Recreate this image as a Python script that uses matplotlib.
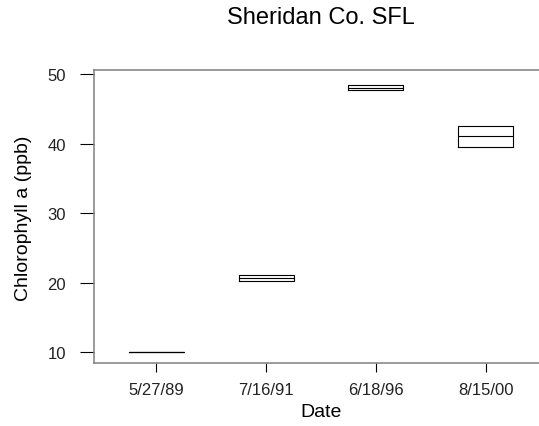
import matplotlib
matplotlib.use("Agg")
import matplotlib.pyplot as plt

plt.rcParams['font.family'] = ['Liberation Sans', 'DejaVu Sans']

dates = ['5/27/89', '7/16/91', '6/18/96', '8/15/00']
q1 = [10.1, 20.25, 47.7, 39.6]
med = [10.1, 20.7, 48.1, 41.1]
q3 = [10.1, 21.1, 48.4, 42.6]

stats = []
for d, lo, m, hi in zip(dates, q1, med, q3):
    stats.append({'label': d, 'q1': lo, 'med': m, 'q3': hi,
                  'whislo': lo, 'whishi': hi, 'fliers': []})

fig = plt.figure(figsize=(5.39, 4.27), dpi=100)
ax = fig.add_axes([94 / 539, 62.7 / 427, 454 / 539, 293.3 / 427])

line = {'color': 'black', 'linewidth': 0.8}
ax.bxp(stats, positions=range(1, len(dates) + 1), widths=0.5,
       showcaps=False, showfliers=False,
       boxprops=line, medianprops=line, whiskerprops=line)

ax.set_xlim(0.436, 4.564)
ax.set_ylim(8.42, 50.62)
ax.set_yticks([10, 20, 30, 40, 50])
ax.set_xticks(range(1, len(dates) + 1))
ax.set_xticklabels(dates)

for s in ['left', 'bottom', 'top', 'right']:
    ax.spines[s].set_color('#808080')
    ax.spines[s].set_linewidth(1.1)

ax.tick_params(axis='y', length=10, width=0.8, pad=10, labelsize=12, labelcolor='#222222')
ax.tick_params(axis='x', length=6.5, width=0.8, pad=7, labelsize=12, labelcolor='#222222')

ax.set_xlabel('Date', fontsize=14, labelpad=4)
fig.text(24 / 539, 1 - 218 / 427, 'Chlorophyll a (ppb)', fontsize=14,
         rotation=90, ha='center', va='center')
fig.text(321 / 539, 1 - 18 / 427, 'Sheridan Co. SFL', fontsize=17,
         ha='center', va='center')

fig.savefig('out.png', dpi=100)
